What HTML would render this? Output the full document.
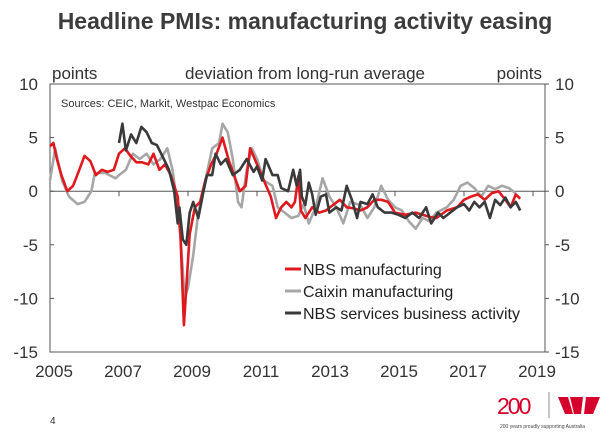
<!DOCTYPE html>
<html><head><meta charset="utf-8"><style>
body{margin:0;width:610px;height:434px;background:#fff;overflow:hidden;font-family:"Liberation Sans",sans-serif}
</style></head><body>
<svg id="c" width="610" height="434" xmlns="http://www.w3.org/2000/svg" style="font-family:'Liberation Sans',sans-serif">
<text x="305" y="29" text-anchor="middle" font-size="23" font-weight="bold" fill="#3c3c3c">Headline PMIs: manufacturing activity easing</text>
<text x="52" y="79" font-size="17" fill="#333">points</text>
<text x="305" y="79" text-anchor="middle" font-size="17" fill="#333">deviation from long-run average</text>
<text x="542" y="79" text-anchor="end" font-size="17" fill="#333">points</text>
<text x="61" y="107" font-size="11" fill="#333">Sources: CEIC, Markit, Westpac Economics</text>
<g id="axes"></g>
<g id="series"></g>
<g>
<line x1="285" y1="269" x2="301" y2="269" stroke="#e0191f" stroke-width="3"/>
<text x="303" y="275" font-size="16" fill="#222">NBS manufacturing</text>
<line x1="285" y1="291" x2="301" y2="291" stroke="#a6a6a6" stroke-width="3"/>
<text x="303" y="297" font-size="16" fill="#222">Caixin manufacturing</text>
<line x1="285" y1="313" x2="301" y2="313" stroke="#3a3a3a" stroke-width="3"/>
<text x="303" y="319" font-size="16" fill="#222">NBS services business activity</text>
</g>
<text x="50" y="424" font-size="10" fill="#333">4</text>
<g>
<text x="497" y="414" font-size="23" fill="#d5002b" letter-spacing="-2">200</text>
<line x1="549" y1="392" x2="549" y2="418" stroke="#888" stroke-width="1"/>
<polygon points="558,397 568,397 573,414 565,414" fill="#d5002b"/>
<polygon points="570,397 583,397 581,414 574,414" fill="#d5002b"/>
<polygon points="586,397 600,397 593,414 584,414" fill="#d5002b"/>
<text x="500" y="428" font-size="5" fill="#444">200 years proudly supporting Australia</text>
</g>
</svg>
<script>
const xTickYears=[2005,2007,2009,2011,2013,2015,2017,2019];
const yTicks=[10,5,0,-5,-10,-15];
const nbsDates=[2005.0,2005.1,2005.2,2005.33,2005.5,2005.67,2005.85,2006.0,2006.17,2006.33,2006.5,2006.67,2006.85,2007.0,2007.17,2007.33,2007.5,2007.67,2007.85,2008.0,2008.17,2008.33,2008.5,2008.6,2008.7,2008.78,2008.88,2008.95,2009.05,2009.2,2009.35,2009.5,2009.67,2009.83,2010.0,2010.17,2010.33,2010.5,2010.67,2010.8,2011.0,2011.2,2011.4,2011.55,2011.7,2011.85,2012.0,2012.1,2012.2,2012.27,2012.4,2012.6,2012.8,2013.0,2013.2,2013.4,2013.6,2013.8,2014.0,2014.2,2014.4,2014.6,2014.8,2015.0,2015.3,2015.6,2015.8,2016.0,2016.2,2016.5,2016.8,2017.0,2017.2,2017.4,2017.6,2017.8,2018.0,2018.2,2018.35,2018.5,2018.63];
const nbsValues=[4.2,4.5,3.0,1.5,0,0.5,2.0,3.3,2.8,1.5,2.0,1.8,2.0,3.5,4.0,3.3,2.7,2.7,2.5,3.5,2.0,2.5,1.5,0.5,-0.5,-4,-12.5,-9,-4,-1.5,-1,1,2.5,3.5,5,3,1.5,0,0.5,4,2.5,1,-0.5,-2.5,-1.5,-1,-1.5,-1,1.4,-1.8,-2.5,-1.5,-2,-1.8,-1.3,-0.8,-1.5,-1.6,-1.8,-1.5,-0.8,-0.8,-1,-2,-2.2,-2,-2.2,-2.4,-2.5,-1.8,-1.5,-0.8,-0.5,-0.3,-0.8,-0.2,0,-0.8,-1.5,-0.3,-0.7];
const caixinDates=[2005.0,2005.15,2005.35,2005.55,2005.8,2006.0,2006.2,2006.3,2006.6,2006.9,2007.0,2007.2,2007.4,2007.6,2007.8,2008.0,2008.2,2008.4,2008.55,2008.7,2008.8,2008.9,2009.0,2009.15,2009.3,2009.5,2009.7,2009.9,2010.0,2010.15,2010.3,2010.45,2010.55,2010.7,2010.85,2011.0,2011.2,2011.45,2011.6,2011.8,2012.0,2012.2,2012.35,2012.5,2012.7,2012.9,2013.1,2013.3,2013.5,2013.7,2014.0,2014.2,2014.4,2014.6,2014.8,2015.0,2015.2,2015.4,2015.6,2015.8,2016.0,2016.2,2016.5,2016.7,2016.9,2017.1,2017.3,2017.5,2017.7,2017.9,2018.1,2018.3,2018.5];
const caixinValues=[1,4,1,-0.5,-1.2,-1,0,1.7,1.7,1.2,1.5,2,3.5,3,3.5,2.5,3,4,2,-1.5,-5,-10,-9,-6,-2,1,4,4.5,6.3,5.5,3,-1,-1.5,2,4,3,1,0.5,-1.5,-2,-2.5,-2.3,-1.2,-3,-1.5,1.2,-0.5,-1.5,-3,-1,-1.3,-2.5,-1.5,0.5,-0.8,-1.5,-1.8,-2.8,-3.5,-2.5,-2.8,-2,-1.5,-0.8,0.5,0.8,0.3,-0.5,0.5,0.2,0.5,0.3,-0.2];
const servDates=[2007.0,2007.1,2007.2,2007.35,2007.5,2007.65,2007.8,2007.95,2008.1,2008.3,2008.45,2008.6,2008.7,2008.75,2008.85,2008.95,2009.05,2009.15,2009.3,2009.45,2009.55,2009.7,2009.8,2009.95,2010.1,2010.3,2010.5,2010.7,2010.9,2011.0,2011.15,2011.25,2011.45,2011.6,2011.7,2011.9,2012.05,2012.15,2012.25,2012.3,2012.4,2012.5,2012.6,2012.7,2012.85,2013.0,2013.1,2013.3,2013.45,2013.6,2013.75,2013.9,2014.0,2014.2,2014.35,2014.5,2014.7,2014.9,2015.1,2015.3,2015.5,2015.7,2015.9,2016.05,2016.25,2016.4,2016.6,2016.8,2017.0,2017.15,2017.3,2017.45,2017.6,2017.75,2017.9,2018.05,2018.2,2018.35,2018.5,2018.63];
const servValues=[4.5,6.3,3.8,5.3,4.5,6,5.5,4.5,4.3,3,2,0,-3,-1.5,-4.5,-5,-2,-1,-2.5,0,1.5,1.5,3.5,2.5,3,1.5,2,3,1.8,2.3,1,3,1.5,1.5,0.3,0,2,0.5,2,-0.5,-1.3,0.8,-0.3,-2.2,-0.5,-0.3,-2,-1.5,-1.8,0.5,-0.8,-2.5,-1,-1.2,-0.3,-1.5,-2,-2,-2.2,-2.5,-2,-2.5,-1.5,-3,-2,-2.5,-2,-1.5,-1.2,-1.8,-1,-1.5,-1,-2.5,-0.8,-1.3,-0.6,-1.5,-1,-1.8];

const NS="http://www.w3.org/2000/svg";
const L=50,R=545,T=84,B=352;
const xS=t=>L+(t-2005)*34.5;
const yS=v=>T+(10-v)*(B-T)/25;
function mk(tag,attrs,parent){const e=document.createElementNS(NS,tag);for(const k in attrs)e.setAttribute(k,attrs[k]);parent.appendChild(e);return e;}
const ax=document.getElementById('axes');
const frame=mk('rect',{x:L,y:T,width:R-L,height:B-T,fill:'none',stroke:'#555','stroke-width':1},ax);


const zl=mk('line',{x1:L,x2:R,y1:yS(0),y2:yS(0),stroke:'#555','stroke-width':1},ax);


yTicks.forEach(v=>{
  const y=yS(v);
  mk('line',{x1:L,x2:L+4,y1:y,y2:y,stroke:'#555'},ax);
  mk('line',{x1:R,x2:R+4,y1:y,y2:y,stroke:'#555'},ax);
  const a=mk('text',{x:38,y:y+6,'text-anchor':'end','font-size':17,fill:'#333'},ax);a.textContent=v;
  
  
  const b=mk('text',{x:555,y:y+6,'font-size':17,fill:'#333'},ax);b.textContent=v;
  
  
});
xTickYears.forEach(yr=>{
  const x=xS(yr);
  if(yr>2005)mk('line',{x1:x,x2:x,y1:yS(0),y2:yS(0)+5,stroke:'#555'},ax);
  const t=mk('text',{x:x+4,y:377,'text-anchor':'middle','font-size':17,fill:'#333'},ax);t.textContent=yr;
  
  
});
const sg=document.getElementById('series');
function line(d,v,color,name){
  const pts=d.map((t,i)=>xS(t).toFixed(1)+','+yS(v[i]).toFixed(1)).join(' ');
  const p=mk('polyline',{points:pts,fill:'none',stroke:color,'stroke-width':2.6,'stroke-linejoin':'round'},sg);
  
  
}
line(caixinDates,caixinValues,'#a6a6a6','caixin-manufacturing-line');
line(nbsDates,nbsValues,'#e0191f','nbs-manufacturing-line');
line(servDates,servValues,'#3a3a3a','nbs-services-line');
</script>
</body></html>
